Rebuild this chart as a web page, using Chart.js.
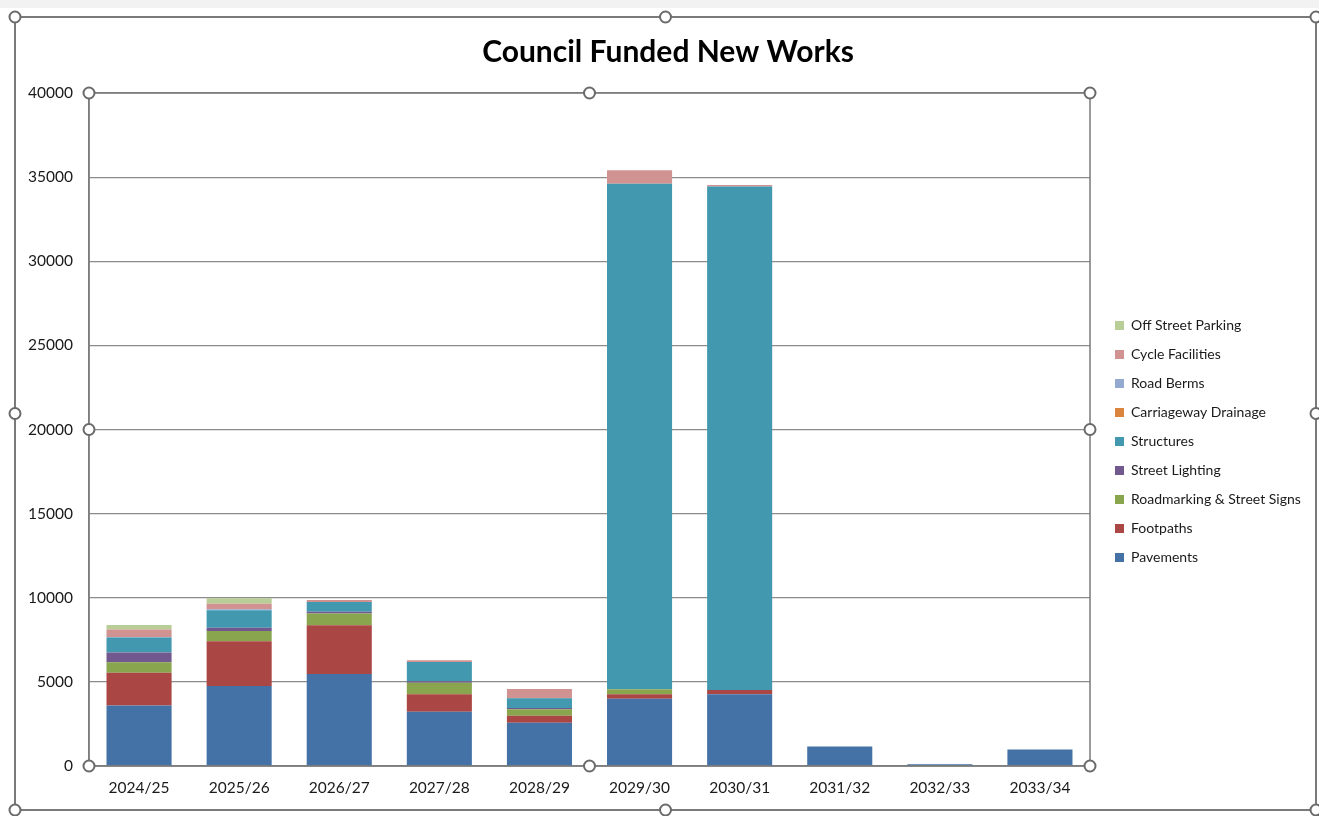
<!DOCTYPE html>
<html><head><meta charset="utf-8">
<script src="https://cdn.jsdelivr.net/npm/chart.js@4"></script>
<style>html,body{margin:0;padding:0;background:#fff;}#wrap{width:1319px;height:816px;position:relative;}</style>
</head><body><div id="wrap"><canvas id="c" width="1319" height="816"></canvas></div>
<script>
const categories = ['2024/25','2025/26','2026/27','2027/28','2028/29','2029/30','2030/31','2031/32','2032/33','2033/34'];
const pavements        = [3600, 4750, 5470, 3230, 2570, 4000, 4260, 1160, 100, 980];
const footpaths        = [1940, 2660, 2890, 1030, 420, 260, 260, 0, 0, 0];
const roadmarking      = [630, 610, 710, 690, 380, 300, 0, 0, 0, 0];
const streetLighting   = [580, 200, 100, 80, 80, 0, 0, 0, 0, 0];
const structures       = [890, 1030, 580, 1150, 570, 30050, 29930, 0, 0, 0];
const carriageway      = [0, 0, 0, 0, 0, 0, 0, 0, 0, 0];
const roadBerms        = [30, 60, 0, 0, 0, 0, 0, 0, 0, 0];
const cycleFacilities  = [450, 340, 120, 100, 560, 800, 80, 0, 0, 0];
const offStreetParking = [260, 320, 0, 0, 0, 0, 0, 0, 0, 0];
const yTicks = [0, 5000, 10000, 15000, 20000, 25000, 30000, 35000, 40000];

const FONT = 'Lato, "Open Sans", sans-serif';
const target = {left: 89, right: 1090, top: 93, bottom: 766};

const series = [
  ['Pavements', pavements, '#4472A7'],
  ['Footpaths', footpaths, '#AA4643'],
  ['Roadmarking & Street Signs', roadmarking, '#89A54E'],
  ['Street Lighting', streetLighting, '#71588F'],
  ['Structures', structures, '#4198AF'],
  ['Carriageway Drainage', carriageway, '#DB843D'],
  ['Road Berms', roadBerms, '#93A9CF'],
  ['Cycle Facilities', cycleFacilities, '#D19392'],
  ['Off Street Parking', offStreetParking, '#B9CD96']
];

const framePlugin = {
  id: 'frame',
  beforeDraw(chart) {
    const a = chart.chartArea, lg = chart.legend, tb = chart.titleBlock;
    if (lg) {
      const w = lg.width;
      lg.left = a.right + 10; lg.right = lg.left + w;
      lg.top = a.top + 12; lg.bottom = a.bottom + 12;
    }
    if (tb) { tb.left = 668 - 320; tb.right = 668 + 320; }
    const ctx = chart.ctx;
    ctx.save();
    ctx.fillStyle = '#f2f2f2';
    ctx.fillRect(0, 0, 1319, 8);
    ctx.restore();
  },
  afterDraw(chart) {
    const ctx = chart.ctx, a = chart.chartArea;
    ctx.save();
    ctx.strokeStyle = '#7a7a7a';
    ctx.lineWidth = 2;
    const rect = (l, t, r, b) => { ctx.strokeRect(l, t, r - l, b - t); };
    rect(15, 17, 1316, 810);
    ctx.lineWidth = 1.5;
    rect(a.left, a.top, a.right, a.bottom);
    const circ = (x, y) => { ctx.beginPath(); ctx.arc(x, y, 5.5, 0, Math.PI * 2); ctx.fillStyle = '#fff'; ctx.fill(); ctx.lineWidth = 2; ctx.strokeStyle = '#6a6a6a'; ctx.stroke(); };
    const handles = (l, t, r, b) => {
      const mx = (l + r) / 2, my = (t + b) / 2;
      [[l,t],[mx,t],[r,t],[l,my],[r,my],[l,b],[mx,b],[r,b]].forEach(p => circ(p[0], p[1]));
    };
    handles(15, 17, 1316, 810);
    handles(a.left, a.top, a.right, a.bottom);
    ctx.restore();
  }
};

const chart = new Chart(document.getElementById('c'), {
  type: 'bar',
  data: {
    labels: categories,
    datasets: series.map(s => ({label: s[0], data: s[1], backgroundColor: s[2], borderWidth: 0,
      barPercentage: 0.65, categoryPercentage: 1.0}))
  },
  options: {
    responsive: false,
    animation: false,
    layout: {padding: {left: 0, right: 17, top: 0, bottom: 20}},
    plugins: {
      title: {display: true, text: 'Council Funded New Works', color: '#000',
        font: {family: FONT, size: 30, weight: 'bold'}, padding: {top: 34, bottom: 24}},
      legend: {position: 'right', reverse: true,
        labels: {boxWidth: 9, boxHeight: 9, padding: 15, color: '#1a1a1a', font: {family: FONT, size: 14}}},
      tooltip: {enabled: false}
    },
    scales: {
      x: {stacked: true,
        grid: {display: false, drawTicks: false},
        border: {display: true, color: '#8a8a8a', width: 1.5},
        ticks: {color: '#1a1a1a', padding: 13, font: {family: FONT, size: 15.5}}},
      y: {stacked: true, min: 0, max: 40000,
        afterFit: s => { s.width = 89; },
        afterBuildTicks: s => { s.ticks = yTicks.map(v => ({value: v})); },
        grid: {color: '#8c8c8c', lineWidth: 1.2, drawTicks: false},
        border: {display: true, color: '#8a8a8a', width: 1.5},
        ticks: {color: '#1a1a1a', padding: 16, font: {family: FONT, size: 15.5},
          callback: v => String(v)}}
    }
  },
  plugins: [framePlugin]
});

// fine tune chart area to match target
const a = chart.chartArea;
const p = chart.options.layout.padding;
p.right += (a.right - target.right);
p.bottom += (a.bottom - target.bottom);
chart.options.plugins.title.padding.bottom += (target.top - a.top);
chart.update();
</script></body></html>
